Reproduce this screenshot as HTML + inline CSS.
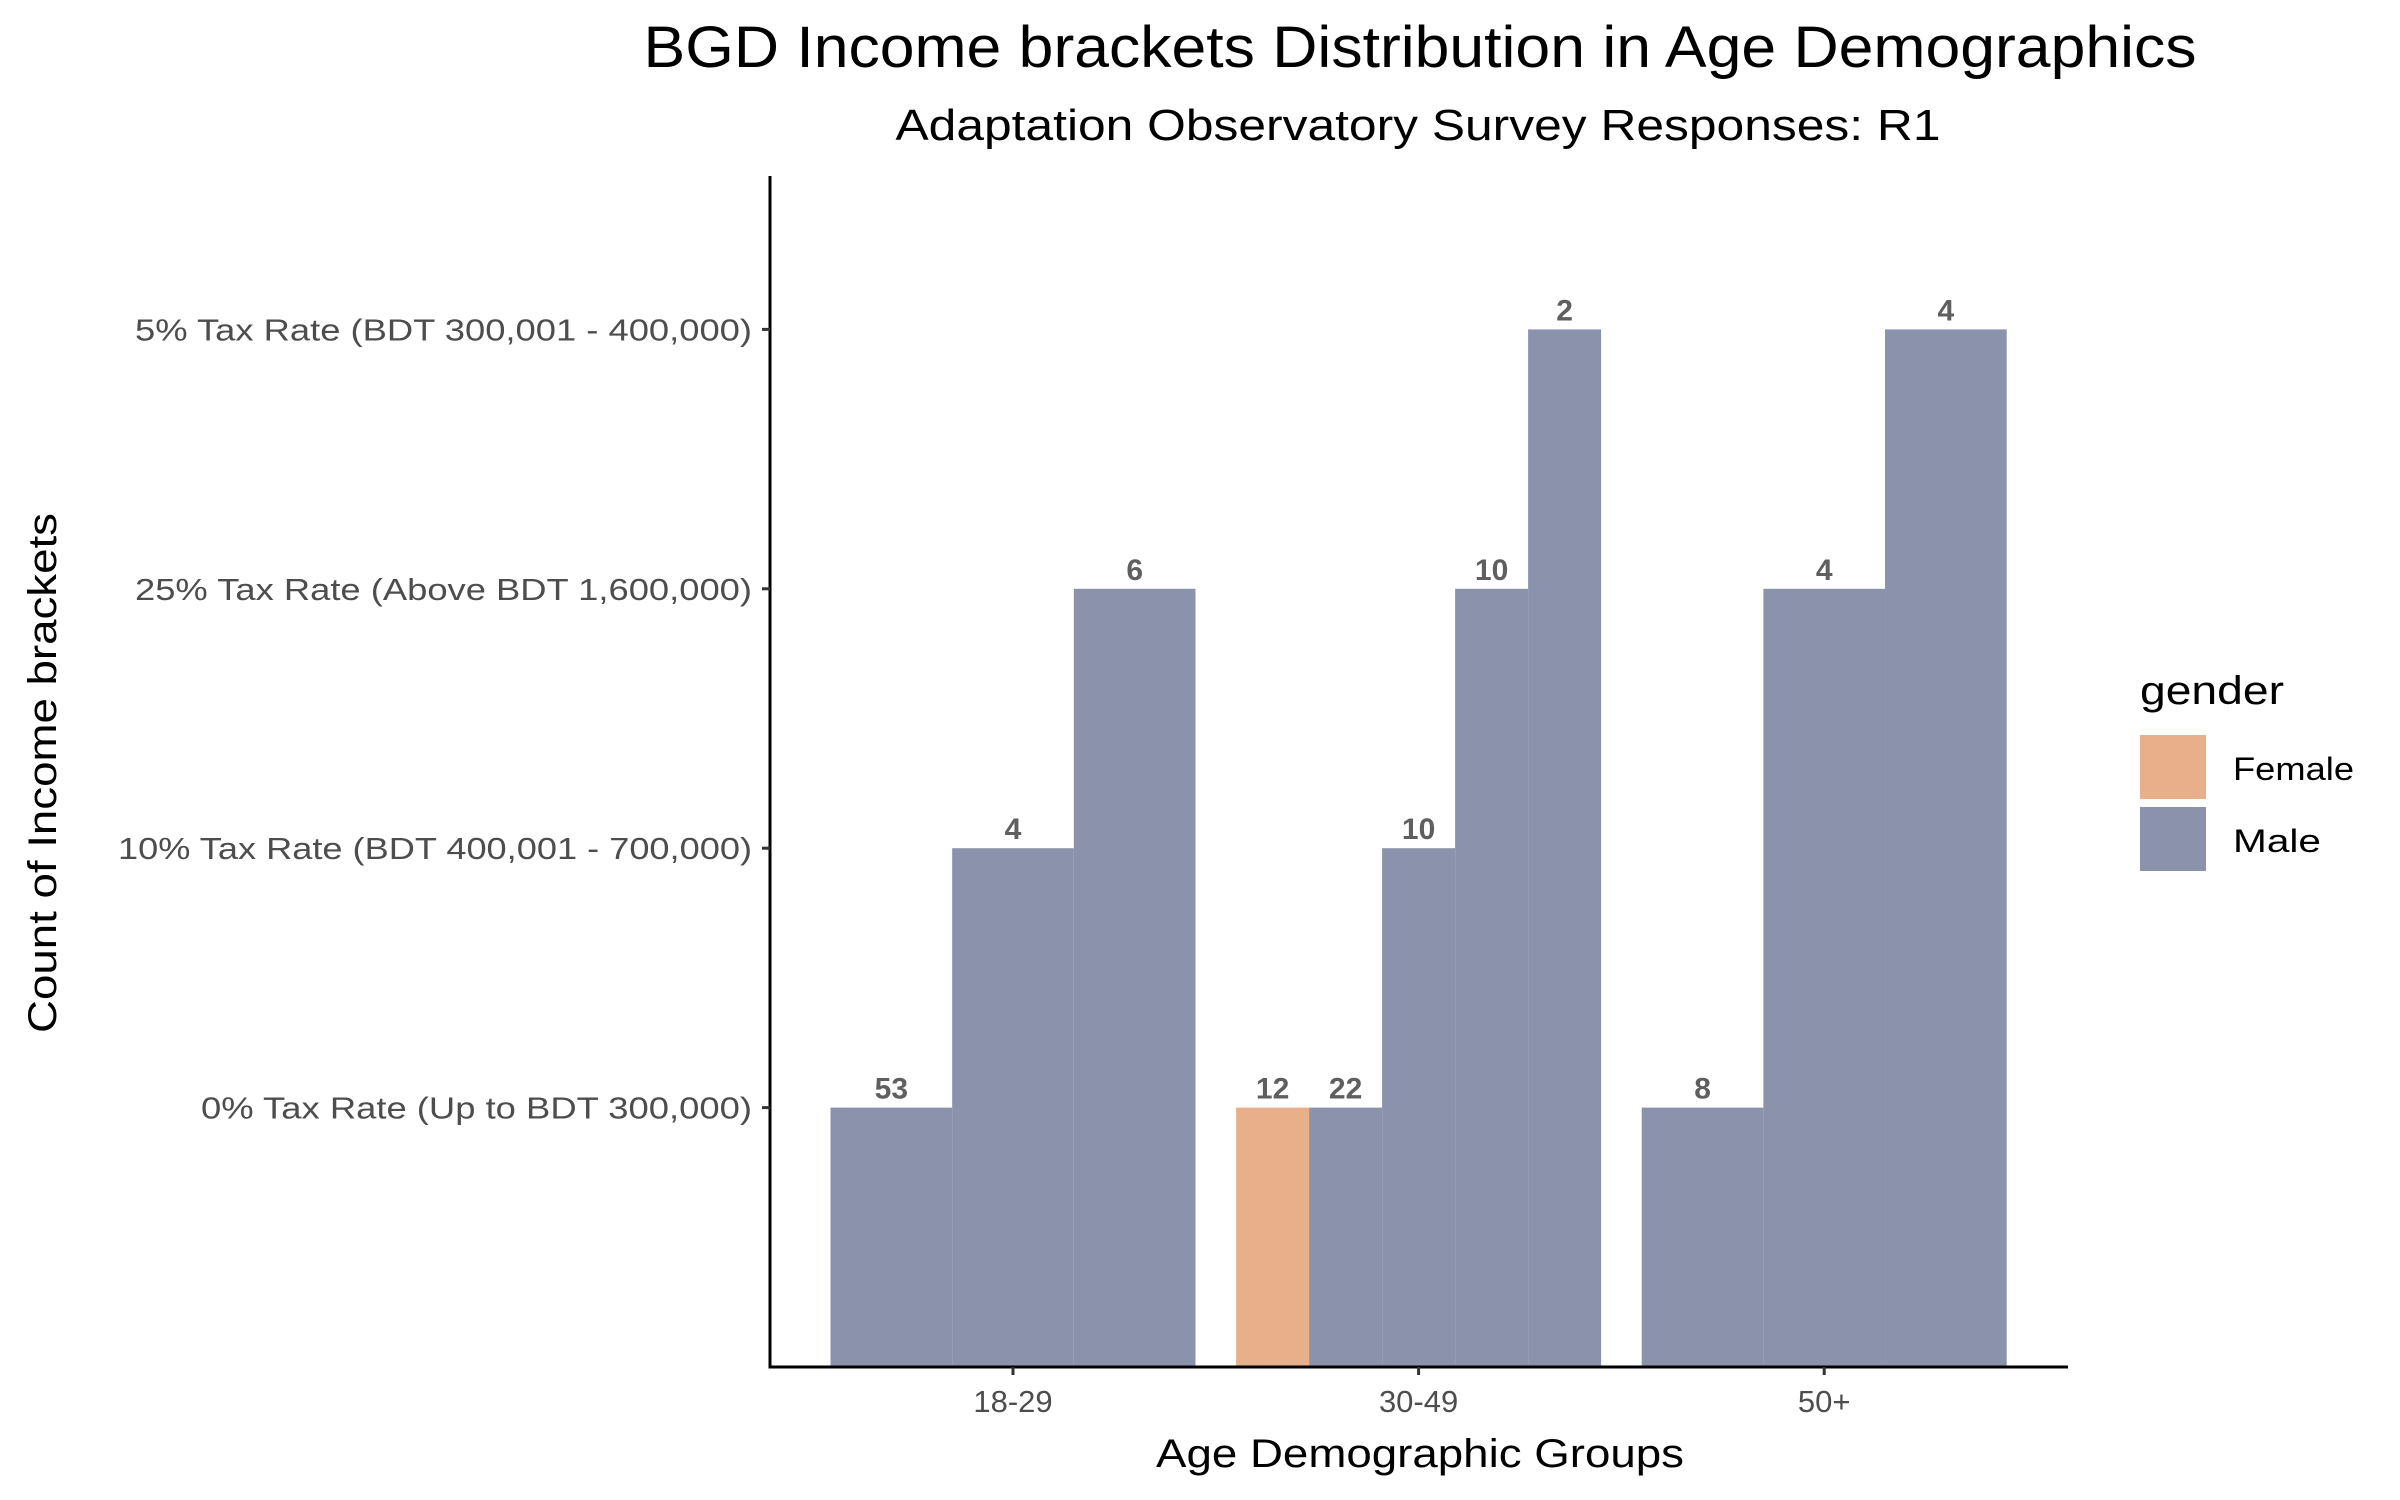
<!DOCTYPE html>
<html><head><meta charset="utf-8"><style>
html,body{margin:0;padding:0;background:#fff;}
svg{display:block;font-family:"Liberation Sans",Arial,sans-serif;}
</style></head><body>
<svg id="chart" width="2400" height="1500" viewBox="0 0 2400 1500" xmlns="http://www.w3.org/2000/svg">
<rect width="2400" height="1500" fill="#fff"/>
<text x="1420" y="67" font-size="58" text-anchor="middle" fill="#000" textLength="1553" lengthAdjust="spacingAndGlyphs">BGD Income brackets Distribution in Age Demographics</text>
<text x="1418" y="140" font-size="44" text-anchor="middle" fill="#000" textLength="1045" lengthAdjust="spacingAndGlyphs">Adaptation Observatory Survey Responses: R1</text>
<g id="plot"></g>
<text transform="translate(56,773) rotate(-90)" font-size="40" text-anchor="middle" fill="#000" textLength="520" lengthAdjust="spacingAndGlyphs">Count of Income brackets</text>
<text x="1420" y="1467" font-size="40" text-anchor="middle" fill="#000" textLength="528" lengthAdjust="spacingAndGlyphs">Age Demographic Groups</text>
<g>
<text x="2140" y="704" font-size="40" fill="#000" textLength="144" lengthAdjust="spacingAndGlyphs">gender</text>
<rect x="2140" y="735" width="66" height="64" fill="#e8b08a"/>
<text x="2233" y="780" font-size="32" fill="#000" textLength="121" lengthAdjust="spacingAndGlyphs">Female</text>
<rect x="2140" y="807" width="66" height="64" fill="#8b93ac"/>
<text x="2233" y="852" font-size="32" fill="#000" textLength="88" lengthAdjust="spacingAndGlyphs">Male</text>
</g>
</svg>
<script>
const groups = ["18-29","30-49","50+"];
const levels = ["0% Tax Rate (Up to BDT 300,000)","10% Tax Rate (BDT 400,001 - 700,000)","25% Tax Rate (Above BDT 1,600,000)","5% Tax Rate (BDT 300,001 - 400,000)"];
const barGroup  = ["18-29","18-29","18-29","30-49","30-49","30-49","30-49","30-49","50+","50+","50+"];
const barGender = ["Male","Male","Male","Female","Male","Male","Male","Male","Male","Male","Male"];
const barLevel  = [1,2,3,1,1,2,3,4,1,3,4];
const barCount  = [53,4,6,12,22,10,10,2,8,4,4];
const labelWidths = [551,634,617,617];

const NS="http://www.w3.org/2000/svg";
const plot=document.getElementById('plot');
const axX=770, baseY=1367, topY=176, unit=259.4, band0=1013, bandStep=405.6, groupW=365, rightX=2068;
const yScale=v=>baseY-v*unit;
const xCenter=g=>band0+groups.indexOf(g)*bandStep;
const colors={Female:"#e8b08a",Male:"#8b93ac"};
function mk(tag,attrs){const e=document.createElementNS(NS,tag);for(const k in attrs)e.setAttribute(k,attrs[k]);return e;}

groups.forEach(g=>{
  const idx=barGroup.map((x,i)=>x===g?i:-1).filter(i=>i>=0);
  const w=groupW/idx.length;
  const x0=xCenter(g)-groupW/2;
  idx.forEach((i,j)=>{
    const x=x0+j*w, y=yScale(barLevel[i]);
    const r=mk('rect',{x:x,y:y,width:w,height:baseY-y,fill:colors[barGender[i]]});
    
    
    plot.appendChild(r);
    const t=mk('text',{x:x+w/2,y:y-9,"font-size":30,"font-weight":"bold","text-anchor":"middle",fill:"#5f5f5f"});
    t.textContent=barCount[i];
    
    
    plot.appendChild(t);
  });
});
const ya=mk('line',{x1:axX,y1:topY,x2:axX,y2:baseY+1.5,stroke:"#000","stroke-width":3});


plot.appendChild(ya);
const xa=mk('line',{x1:axX-1.5,y1:baseY,x2:rightX,y2:baseY,stroke:"#000","stroke-width":3});


plot.appendChild(xa);
levels.forEach((lab,k)=>{
  const y=yScale(k+1);
  const tk=mk('line',{x1:axX-8,y1:y,x2:axX,y2:y,stroke:"#333","stroke-width":3});
  
  
  plot.appendChild(tk);
  const t=mk('text',{x:axX-18,y:y+11,"font-size":31,"text-anchor":"end",fill:"#4d4d4d",textLength:labelWidths[k],lengthAdjust:"spacingAndGlyphs"});
  t.textContent=lab;
  
  
  plot.appendChild(t);
});
groups.forEach(g=>{
  const x=xCenter(g);
  const tk=mk('line',{x1:x,y1:baseY,x2:x,y2:baseY+8,stroke:"#333","stroke-width":3});
  
  
  plot.appendChild(tk);
  const t=mk('text',{x:x,y:baseY+45,"font-size":31,"text-anchor":"middle",fill:"#4d4d4d"});
  t.textContent=g;
  
  
  plot.appendChild(t);
});
</script>
</body></html>
